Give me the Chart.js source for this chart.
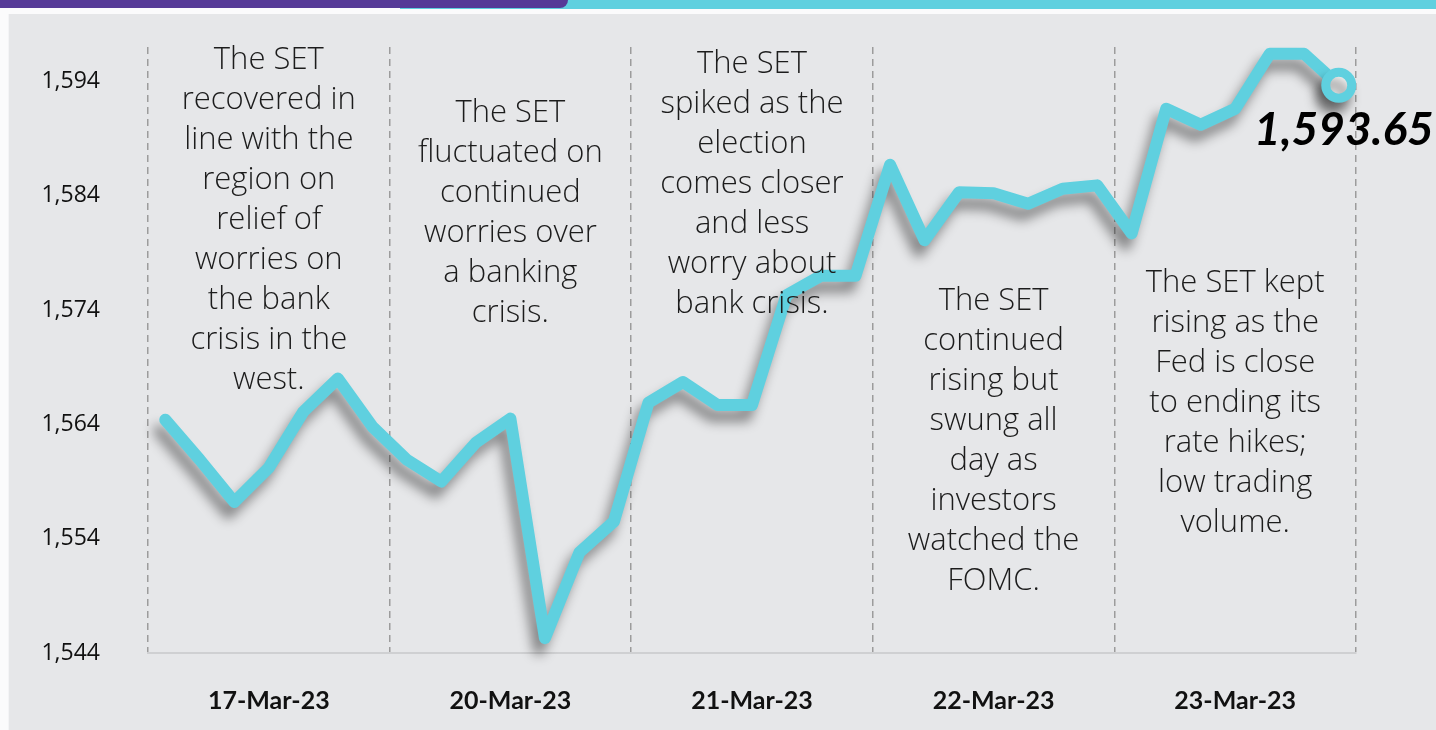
<!DOCTYPE html>
<html>
<head>
<meta charset="utf-8">
<script src="https://cdn.jsdelivr.net/npm/chart.js@4/dist/chart.umd.min.js"></script>
<style>
    body { margin: 0; background: #fbfbfc; width: 1436px; height: 730px; overflow: hidden; position: relative; }
    #barCyan { position: absolute; left: 400px; top: 0; width: 1036px; height: 9px; background: #5fd0df; }
    #barPurple { position: absolute; left: 0; top: 0; width: 568px; height: 8px; background: #563a97; border-bottom-right-radius: 10px; }
    #panel { position: absolute; left: 8px; top: 14px; right: 0; bottom: 0; background: #e6e7e9; border-left: 1px solid #f4f4f6; }
    #set_chart { position: absolute; left: 0; top: 0; }
</style>
</head>
<body>
<div id="barCyan"></div>
<div id="barPurple"></div>
<div id="panel"></div>
<canvas id="set_chart" width="1436" height="730"></canvas>
<script>
// trading days, 7 intraday readings each
const days = ['17-Mar-23', '20-Mar-23', '21-Mar-23', '22-Mar-23', '23-Mar-23'];
const slotsPerDay = 7;

// SET index readings
const setIndex = [
    1564.4, 1560.9, 1557.2, 1560.2, 1565.1, 1568.0, 1563.8,
    1560.9, 1559.0, 1562.4, 1564.5, 1545.3, 1552.8, 1555.5,
    1565.9, 1567.7, 1565.7, 1565.7, 1575.3, 1577.0, 1577.0,
    1586.7, 1580.1, 1584.3, 1584.2, 1583.3, 1584.6, 1584.9,
    1580.7, 1591.6, 1590.2, 1591.6, 1596.4, 1596.4, 1593.65
];

const yTicks = [1544, 1554, 1564, 1574, 1584, 1594];

const notes = [
    ['The SET', 'recovered in', 'line with the', 'region on', 'relief of', 'worries on', 'the bank', 'crisis in the', 'west.'],
    ['The SET', 'fluctuated on', 'continued', 'worries over', 'a banking', 'crisis.'],
    ['The SET', 'spiked as the', 'election', 'comes closer', 'and less', 'worry about', 'bank crisis.'],
    ['The SET', 'continued', 'rising but', 'swung all', 'day as', 'investors', 'watched the', 'FOMC.'],
    ['The SET kept', 'rising as the', 'Fed is close', 'to ending its', 'rate hikes;', 'low trading', 'volume.']
];

const labels = [];
days.forEach(d => { for (let i = 0; i < slotsPerDay; i++) labels.push(d); });

Chart.defaults.font.family = 'Lato, "Open Sans", sans-serif';
Chart.defaults.color = '#111';

const lineShadow = {
    id: 'lineShadow',
    beforeDatasetDraw(chart) {
        const ctx = chart.ctx;
        ctx.save();
        ctx.shadowColor = 'rgba(0, 0, 0, 0.42)';
        ctx.shadowBlur = 12;
        ctx.shadowOffsetX = -6;
        ctx.shadowOffsetY = 11;
    },
    afterDatasetDraw(chart) {
        chart.ctx.restore();
    }
};

const noteTop = [60, 113, 64, 301, 283];

const notesPlugin = {
    id: 'notes',
    afterDatasetsDraw(chart) {
        const ctx = chart.ctx;
        const x = chart.scales.x;
        ctx.save();
        ctx.font = '300 31px "Open Sans", Lato, sans-serif';
        ctx.fillStyle = '#1c1c1c';
        ctx.textAlign = 'center';
        ctx.textBaseline = 'middle';
        notes.forEach((lines, d) => {
            const cx = x.getPixelForValue(d * slotsPerDay + 3);
            lines.forEach((t, i) => ctx.fillText(t, cx, noteTop[d] + i * 40));
        });

        // last value label
        const meta = chart.getDatasetMeta(0);
        const pt = meta.data[meta.data.length - 1];
        const last = setIndex[setIndex.length - 1];
        ctx.font = 'italic bold 46px Lato, sans-serif';
        ctx.fillStyle = '#000';
        ctx.textAlign = 'right';
        ctx.textBaseline = 'alphabetic';
        ctx.fillText(last.toLocaleString('en-US', {minimumFractionDigits: 2}), pt.x + 95, pt.y + 60);
        ctx.restore();
    }
};

const pointRadius = setIndex.map((v, i) => i === setIndex.length - 1 ? 13 : 0);

new Chart(document.getElementById('set_chart'), {
    type: 'line',
    data: {
        labels: labels,
        datasets: [{
            label: 'SET',
            data: setIndex,
            borderColor: '#5fd0df',
            borderWidth: 12,
            borderJoinStyle: 'round',
            borderCapStyle: 'round',
            tension: 0,
            pointRadius: pointRadius,
            pointHoverRadius: pointRadius,
            pointBorderWidth: 9,
            pointBorderColor: '#5fd0df',
            pointBackgroundColor: '#ffffff',
            clip: 20
        }]
    },
    options: {
        responsive: false,
        animation: false,
        devicePixelRatio: 1,
        layout: {
            padding: { left: 38, right: 80, top: 47, bottom: 20 }
        },
        plugins: {
            legend: { display: false },
            tooltip: { enabled: false }
        },
        scales: {
            x: {
                type: 'category',
                offset: true,
                grid: {
                    offset: true,
                    drawTicks: false,
                    lineWidth: 1.5,
                    color: ctx => (ctx.index === undefined || ctx.index % slotsPerDay === 0) ? '#9c9c9c' : 'transparent'
                },
                border: { display: true, color: '#cfd0d2', width: 2, dash: [7, 5] },
                afterFit: scale => { scale.height = 57; },
                ticks: {
                    autoSkip: false,
                    maxRotation: 0,
                    padding: 33,
                    font: { size: 25, weight: 'bold' },
                    color: '#111',
                    callback: function(v, i) {
                        return i % slotsPerDay === 3 ? this.getLabelForValue(v) : '';
                    }
                }
            },
            y: {
                min: 1544,
                max: 1597,
                grid: { display: false, drawTicks: false },
                border: { display: false },
                afterBuildTicks: scale => { scale.ticks = yTicks.map(v => ({ value: v })); },
                afterFit: scale => {
                    scale.width = 110;
                    scale.paddingTop = 0;
                    scale.paddingBottom = 0;
                },
                ticks: {
                    padding: 48,
                    font: { family: '"Open Sans", Lato, sans-serif', size: 23 },
                    color: '#111',
                    callback: v => v.toLocaleString('en-US')
                }
            }
        }
    },
    plugins: [lineShadow, notesPlugin]
});
</script>
</body>
</html>
